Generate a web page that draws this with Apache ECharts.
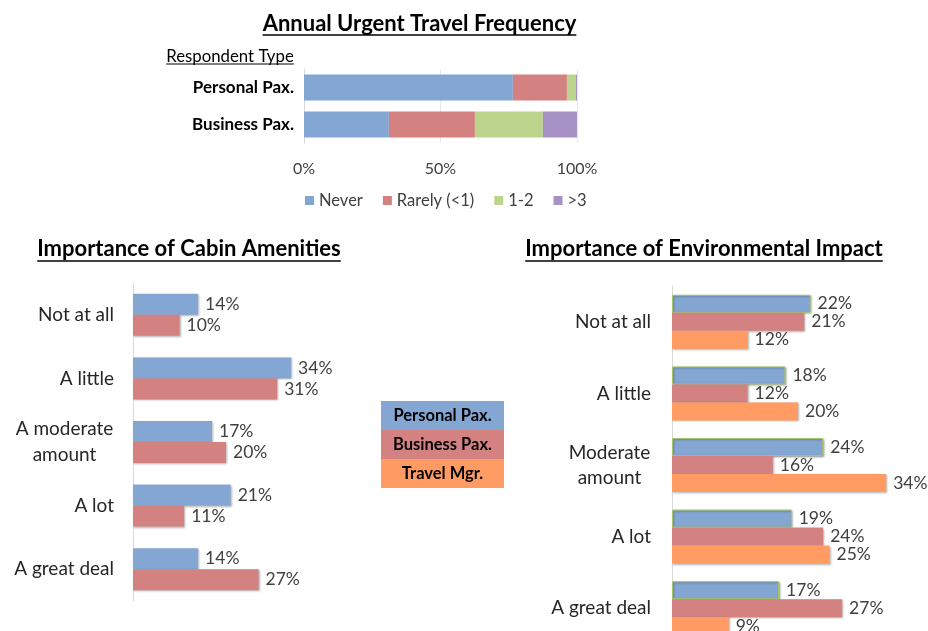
<!DOCTYPE html>
<html>
<head>
    <meta charset="UTF-8">
    <title>Urgent Travel Survey</title>
    <script src="https://cdn.jsdelivr.net/npm/echarts@6/dist/echarts.min.js"></script>
    <style>
        html, body { margin: 0; background: #fff; overflow: hidden; }
        /* a bit taller than the window: the last group is cut off at the bottom */
        #main { width: 928px; height: 660px; }
    </style>
</head>
<body>
    <div id="main"></div>
    <script>
        // data
        var respondents = ['Personal Pax.', 'Business Pax.'];
        var freqNames = ['Never', 'Rarely (<1)', '1-2', '>3'];
        var freqPersonal = [76.5, 19.8, 3.3, 0.4];
        var freqBusiness = [31.1, 31.5, 24.9, 12.5];
        var freqTicks = [0, 50, 100];

        var cabinLevels = ['Not at all', 'A little', 'A moderate\namount', 'A lot', 'A great deal'];
        var cabinPersonal = [14, 34, 17, 21, 14];
        var cabinBusiness = [10, 31, 20, 11, 27];

        var envLevels = ['Not at all', 'A little', 'Moderate\namount', 'A lot', 'A great deal'];
        var envPersonal = [22, 18, 24, 19, 17];
        var envBusiness = [21, 12, 16, 24, 27];
        var envTravelMgr = [12, 20, 34, 25, 9];

        var groupNames = ['Personal Pax.', 'Business Pax.', 'Travel Mgr.'];

        var FONT = 'Lato, "Open Sans", sans-serif';
        var freqColors = ['#84a6d3', '#d48181', '#bdd48c', '#a692c4'];
        var groupColors = ['#84a6d3', '#d48181', '#ff9b63'];

        var ctx = document.createElement('canvas').getContext('2d');
        function textWidth(t, font) {
            ctx.font = font;
            return ctx.measureText(t).width;
        }

        // title text + underline
        function heading(t, cx, cy, size, weight, gap) {
            var font = weight + ' ' + size + 'px ' + FONT;
            var w = textWidth(t, font);
            return [
                { type: 'text', x: cx, y: cy, silent: true,
                  style: { text: t, font: font, fill: '#000', textAlign: 'center', textVerticalAlign: 'middle' } },
                { type: 'line', silent: true,
                  shape: { x1: cx - w / 2, y1: cy + gap, x2: cx + w / 2, y2: cy + gap },
                  style: { stroke: '#000', lineWidth: size > 18 ? 1.5 : 1 } }
            ];
        }

        // two-line categories: lines centred on each other, block right-aligned
        function levelLabel(v) {
            if (v.indexOf('\n') < 0) return v;
            return v.split('\n').map(function (s) { return '{c|' + s + '}'; }).join('\n');
        }
        function levelRich(levels, size, lh) {
            var widest = 0;
            levels.forEach(function (l) {
                if (l.indexOf('\n') < 0) return;
                l.split('\n').forEach(function (s) {
                    widest = Math.max(widest, textWidth(s, size + 'px ' + FONT));
                });
            });
            return { c: { width: Math.ceil(widest) + 1, align: 'center', fontSize: size, lineHeight: lh,
                          fontFamily: FONT, color: '#262626' } };
        }

        var barShadow = { shadowColor: 'rgba(0,0,0,0.3)', shadowBlur: 2, shadowOffsetX: 1, shadowOffsetY: 1 };
        var valueLabel = { show: true, position: 'right', distance: 7, formatter: '{c}%',
                           fontSize: 17.5, fontFamily: FONT, color: '#404040' };

        var series = [];
        freqNames.forEach(function (n, i) {
            series.push({
                name: n, type: 'bar', stack: 'freq', xAxisIndex: 0, yAxisIndex: 0,
                barWidth: 26, itemStyle: { color: freqColors[i] },
                data: [freqPersonal[i], freqBusiness[i]]
            });
        });
        [cabinPersonal, cabinBusiness].forEach(function (d, i) {
            series.push({
                name: groupNames[i], type: 'bar', xAxisIndex: 1, yAxisIndex: 1,
                barWidth: 21, barGap: '0%',
                itemStyle: Object.assign({ color: groupColors[i] }, barShadow),
                label: valueLabel, data: d
            });
        });
        [envPersonal, envBusiness, envTravelMgr].forEach(function (d, i) {
            var st = Object.assign({ color: groupColors[i] }, barShadow);
            if (i === 0) { st.borderColor = '#a5c46c'; st.borderWidth = 1; }
            series.push({
                name: groupNames[i], type: 'bar', xAxisIndex: 2, yAxisIndex: 2,
                barWidth: 18, barGap: '0%', itemStyle: st,
                label: valueLabel, data: d
            });
        });

        // centre key block
        var key = [];
        groupNames.forEach(function (n, i) {
            key.push({ type: 'rect', silent: true, shape: { x: 381, y: 401 + i * 29, width: 123, height: 29 },
                       style: { fill: groupColors[i] } });
            key.push({ type: 'text', silent: true, x: 442.5, y: 401 + i * 29 + 15,
                       style: { text: n, font: 'bold 16.5px ' + FONT, fill: '#000',
                                textAlign: 'center', textVerticalAlign: 'middle' } });
        });

        var graphics = []
            .concat(heading('Annual Urgent Travel Frequency', 419.5, 24, 22, 'bold', 11))
            .concat(heading('Respondent Type', 230, 57, 16.8, 'normal', 7))
            .concat(heading('Importance of Cabin Amenities', 189, 249, 22, 'bold', 12))
            .concat(heading('Importance of Environmental Impact', 704, 249, 22, 'bold', 12))
            .concat(key);

        var myChart = echarts.init(document.getElementById('main'));
        var option = {
            animation: false,
            textStyle: { fontFamily: FONT },
            legend: {
                data: freqNames, left: 300, top: 187, icon: 'rect', itemWidth: 9, itemHeight: 9,
                itemGap: 20, textStyle: { fontSize: 16.5, color: '#404040', fontFamily: FONT }
            },
            grid: [
                { left: 304, top: 69, width: 273, height: 74 },
                { left: 133, top: 283, width: 186, height: 318 },
                { left: 672, top: 286, width: 252, height: 358 }
            ],
            xAxis: [
                { gridIndex: 0, type: 'value', min: freqTicks[0], max: freqTicks[freqTicks.length - 1],
                  interval: freqTicks[1] - freqTicks[0],
                  axisLabel: { formatter: '{value}%', fontSize: 16, color: '#404040', margin: 18 },
                  axisLine: { show: false }, axisTick: { show: false },
                  splitLine: { show: true, lineStyle: { color: '#e8e8e8' } } },
                { gridIndex: 1, type: 'value', min: 0, max: 40, show: false },
                { gridIndex: 2, type: 'value', min: 0, max: 40, show: false }
            ],
            yAxis: [
                { gridIndex: 0, type: 'category', data: respondents, inverse: true,
                  axisTick: { show: false }, axisLine: { lineStyle: { color: '#d9d9d9' } },
                  axisLabel: { fontSize: 17, fontWeight: 'bold', color: '#000', margin: 10 } },
                { gridIndex: 1, type: 'category', data: cabinLevels, inverse: true,
                  axisTick: { show: false }, axisLine: { lineStyle: { color: '#d9d9d9' } },
                  axisLabel: { fontSize: 19, color: '#262626', margin: 19,
                               formatter: levelLabel, rich: levelRich(cabinLevels, 19, 26) } },
                { gridIndex: 2, type: 'category', data: envLevels, inverse: true,
                  axisTick: { show: false }, axisLine: { lineStyle: { color: '#d9d9d9' } },
                  axisLabel: { fontSize: 19, color: '#262626', margin: 21,
                               formatter: levelLabel, rich: levelRich(envLevels, 19, 25) } }
            ],
            graphic: graphics,
            series: series
        };
        option && myChart.setOption(option);
    </script>
</body>
</html>
